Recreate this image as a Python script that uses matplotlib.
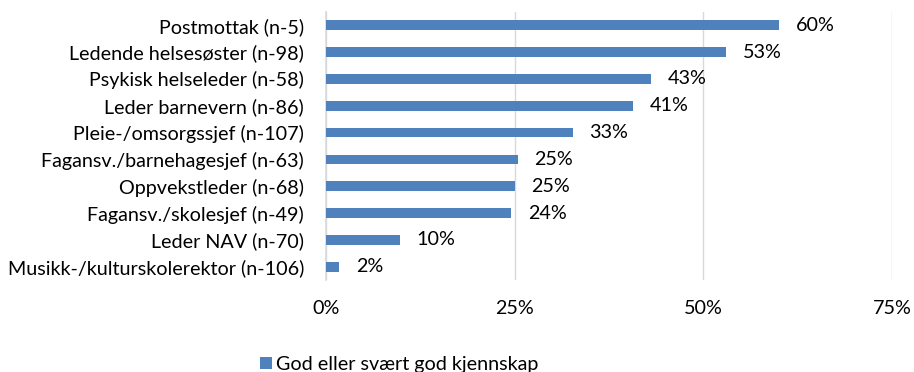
import matplotlib.pyplot as plt
from matplotlib.ticker import FuncFormatter

plt.rcParams['font.family'] = ['Lato', 'DejaVu Sans']

categories = ['Postmottak (n-5)', 'Ledende helsesøster (n-98)', 'Psykisk helseleder (n-58)',
              'Leder barnevern (n-86)', 'Pleie-/omsorgssjef (n-107)', 'Fagansv./barnehagesjef (n-63)',
              'Oppvekstleder (n-68)', 'Fagansv./skolesjef (n-49)', 'Leder NAV (n-70)',
              'Musikk-/kulturskolerektor (n-106)']
values = [60.0, 53.0, 43.0, 40.7, 32.7, 25.4, 25.0, 24.5, 9.8, 1.7]
labels = ['60%', '53%', '43%', '41%', '33%', '25%', '25%', '24%', '10%', '2%']
series_name = 'God eller svært god kjennskap'
color = '#4f81bd'
fs = 14.2

fig = plt.figure(figsize=(9.14, 3.72), dpi=100)
ax = fig.add_axes([0.357, 0.247, 0.619, 0.721])

y = list(range(len(categories)))[::-1]
ax.barh(y, values, height=0.36, color=color, label=series_name, zorder=3)
for yi, v, t in zip(y, values, labels):
    ax.text(v + 2.2, yi, t, va='center', ha='left', fontsize=fs, color='#000000')

ax.set_xlim(0, 75)
ax.set_ylim(-0.5, len(categories) - 0.5)
ax.set_xticks([0, 25, 50, 75])
ax.xaxis.set_major_formatter(FuncFormatter(lambda v, p: f'{v:.0f}%'))
ax.set_yticks(y)
ax.set_yticklabels(categories)
ax.tick_params(axis='both', length=0, labelsize=fs, colors='#000000')
ax.tick_params(axis='x', pad=14)
ax.tick_params(axis='y', pad=16)
ax.grid(axis='x', color='#d9d9d9', linewidth=1, zorder=0)
for s in ['top', 'right', 'bottom']:
    ax.spines[s].set_visible(False)
ax.spines['left'].set_color('#d9d9d9')
ax.spines['left'].set_linewidth(1.2)

fig.legend(loc='lower left', bbox_to_anchor=(0.265, -0.05), frameon=False,
           fontsize=fs, handlelength=0.6, handleheight=0.6, handletextpad=0.2)

fig.savefig('out.png', dpi=100)
